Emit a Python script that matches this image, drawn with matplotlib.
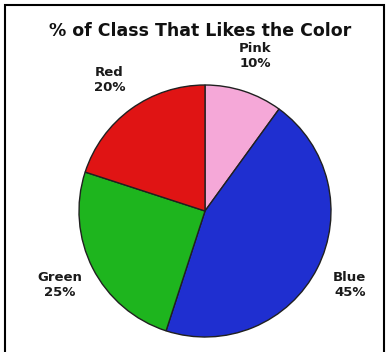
import matplotlib
matplotlib.use('Agg')
import matplotlib.pyplot as plt
from matplotlib.patches import Rectangle

# data
categories = ['Pink', 'Blue', 'Green', 'Red']
percents = [10, 45, 25, 20]
colors = ['#f5a8d8', '#1f2fd0', '#1eb51e', '#e01414']

fig = plt.figure(figsize=(3.88, 3.52), dpi=100)

# frame around the whole chart
fig.patches.append(Rectangle((5/388, -0.05), 379/388, 1 - 5/352 + 0.05,
                             transform=fig.transFigure, fill=False,
                             edgecolor='black', linewidth=1.5))

fig.text(200/388, 1 - 31/352, '% of Class That Likes the Color',
         ha='center', va='center', fontsize=12.5, fontweight='bold', color='#111111')

r = 126
cx, cy = 205, 352 - 211
ax = fig.add_axes([(cx - r)/388, (cy - r)/352, 2*r/388, 2*r/352])
labels = [f'{c}\n{p}%' for c, p in zip(categories, percents)]
wedges, texts = ax.pie(percents, labels=labels, colors=colors, startangle=90,
                       counterclock=False, labeldistance=1.29,
                       wedgeprops=dict(edgecolor='#202020', linewidth=1.0),
                       textprops=dict(fontsize=9.5, fontweight='bold', color='#1a1a1a'))
for t in texts:
    t.set_ha('center')
    t.set_va('center')
ax.set_xlim(-1, 1)
ax.set_ylim(-1, 1)
ax.set_aspect('equal')

fig.savefig('out.png', dpi=100)
